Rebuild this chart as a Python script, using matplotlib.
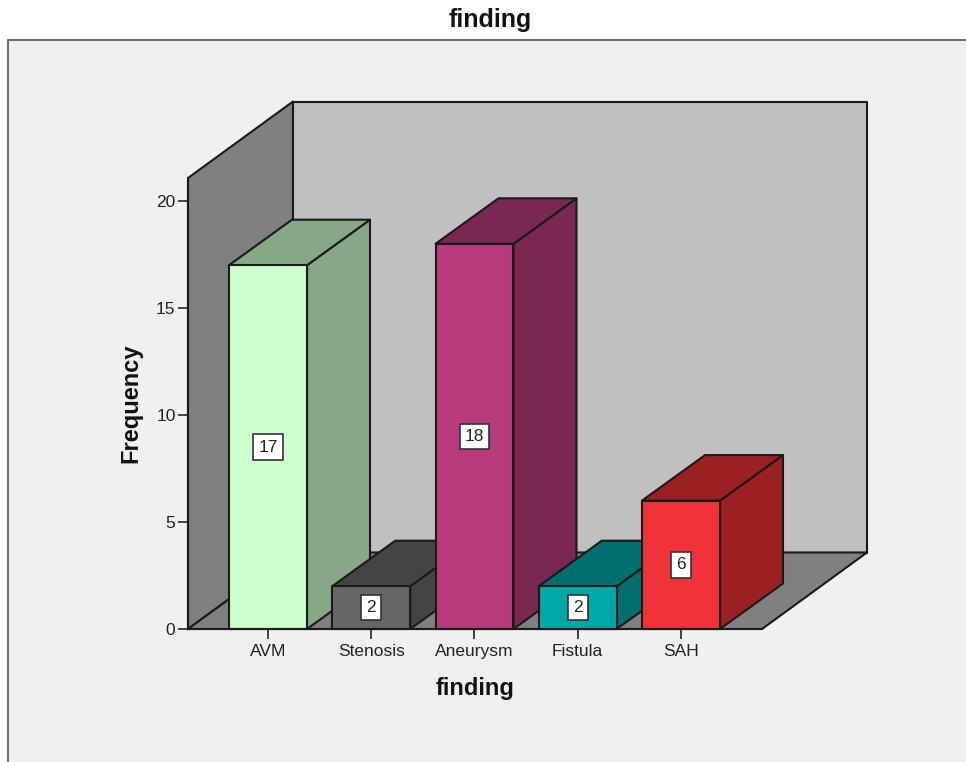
import matplotlib
matplotlib.use("Agg")
import matplotlib.pyplot as plt
from matplotlib.patches import Polygon, Rectangle

categories = ["AVM", "Stenosis", "Aneurysm", "Fistula", "SAH"]
frequency = [17, 2, 18, 2, 6]
front_colors = ["#ccffcc", "#666666", "#b83b7c", "#00a8a8", "#f23239"]
dark_colors = ["#87a887", "#444444", "#7a2852", "#006f6f", "#9c2021"]
y_ticks = [0, 5, 10, 15, 20]

W, H = 966, 762
PX_X = 103.25   # pixels per category
PX_Y = 21.4     # pixels per count
LINE = "#1a1a1a"

plt.rcParams["font.family"] = ["Liberation Sans", "DejaVu Sans"]

fig = plt.figure(figsize=(W / 100, H / 100), dpi=100, facecolor="white")

# grey chart panel with border on top and left only
fig.add_artist(Rectangle((8 / W, 0), 1 - 8 / W, 1 - 40 / H, transform=fig.transFigure,
                         facecolor="#f0f0f0", edgecolor="none", zorder=-2))
fig.add_artist(plt.Line2D([8 / W, 8 / W, 1], [0, 1 - 40 / H, 1 - 40 / H],
                          color="#707070", lw=1.5, zorder=-1))

# axes = front plane of the 3D box
left, right, bottom, top = 188, 762, 629, 178
ax = fig.add_axes([left / W, 1 - bottom / H, (right - left) / W, (bottom - top) / H])
ax.patch.set_visible(False)
xmin = (left - 268) / PX_X
xmax = (right - 268) / PX_X
ymax = (bottom - top) / PX_Y
ax.set_xlim(xmin, xmax)
ax.set_ylim(0, ymax)

# depth offsets in data units
wall_dx, wall_dy = 105 / PX_X, 76.5 / PX_Y
bar_dx, bar_dy = 63 / PX_X, 45.5 / PX_Y
bar_w = 78 / PX_X


def poly(points, color, z):
    ax.add_patch(Polygon(points, closed=True, facecolor=color, edgecolor=LINE,
                         lw=1.5, joinstyle="round", clip_on=False, zorder=z))


# walls and floor
poly([(xmin, 0), (xmin + wall_dx, wall_dy), (xmin + wall_dx, ymax + wall_dy), (xmin, ymax)], "#808080", 1)
poly([(xmin + wall_dx, wall_dy), (xmax + wall_dx, wall_dy), (xmax + wall_dx, ymax + wall_dy),
      (xmin + wall_dx, ymax + wall_dy)], "#c0c0c0", 1)
poly([(xmin, 0), (xmax, 0), (xmax + wall_dx, wall_dy), (xmin + wall_dx, wall_dy)], "#808080", 1)

# bars, left to right so later ones cover earlier ones
for i, (val, front, dark) in enumerate(zip(frequency, front_colors, dark_colors)):
    x0, x1 = i - bar_w / 2, i + bar_w / 2
    z = 2 + i
    poly([(x1, 0), (x1 + bar_dx, bar_dy), (x1 + bar_dx, val + bar_dy), (x1, val)], dark, z)
    poly([(x0, val), (x1, val), (x1 + bar_dx, val + bar_dy), (x0 + bar_dx, val + bar_dy)], dark, z)
    poly([(x0, 0), (x1, 0), (x1, val), (x0, val)], front, z)
    ax.text(i, val / 2, str(val), ha="center", va="center", fontsize=12.5, color="#222222", zorder=z,
            bbox=dict(boxstyle="square,pad=0.3", facecolor="white", edgecolor="#333333", lw=1.2))

# axes
for side in ["top", "right"]:
    ax.spines[side].set_visible(False)
for side in ["left", "bottom"]:
    ax.spines[side].set_color(LINE)
    ax.spines[side].set_linewidth(1.5)
    ax.spines[side].set_zorder(10)
ax.set_xticks(range(len(categories)), categories)
ax.set_yticks(y_ticks)
ax.tick_params(axis="x", length=7, width=1.3, color="#333333", labelsize=12.5, labelcolor="#222222", pad=4)
ax.tick_params(axis="y", length=7, width=1.3, color="#333333", labelsize=12.5, labelcolor="#222222", pad=2)

ax.set_xlabel("finding", fontsize=17, fontweight="bold", color="#111111")
ax.xaxis.set_label_coords((475 - left) / (right - left), -(689 - bottom) / (bottom - top))
ax.xaxis.label.set_va("center")
ax.set_ylabel("Frequency", fontsize=17, fontweight="bold", color="#111111")
ax.yaxis.set_label_coords((131 - left) / (right - left), (bottom - 403) / (bottom - top))
ax.yaxis.label.set_va("center")

fig.text(490 / W, 1 - 20 / H, "finding", ha="center", va="center",
         fontsize=18, fontweight="bold", color="#111111")

fig.savefig("out.png", dpi=100)
